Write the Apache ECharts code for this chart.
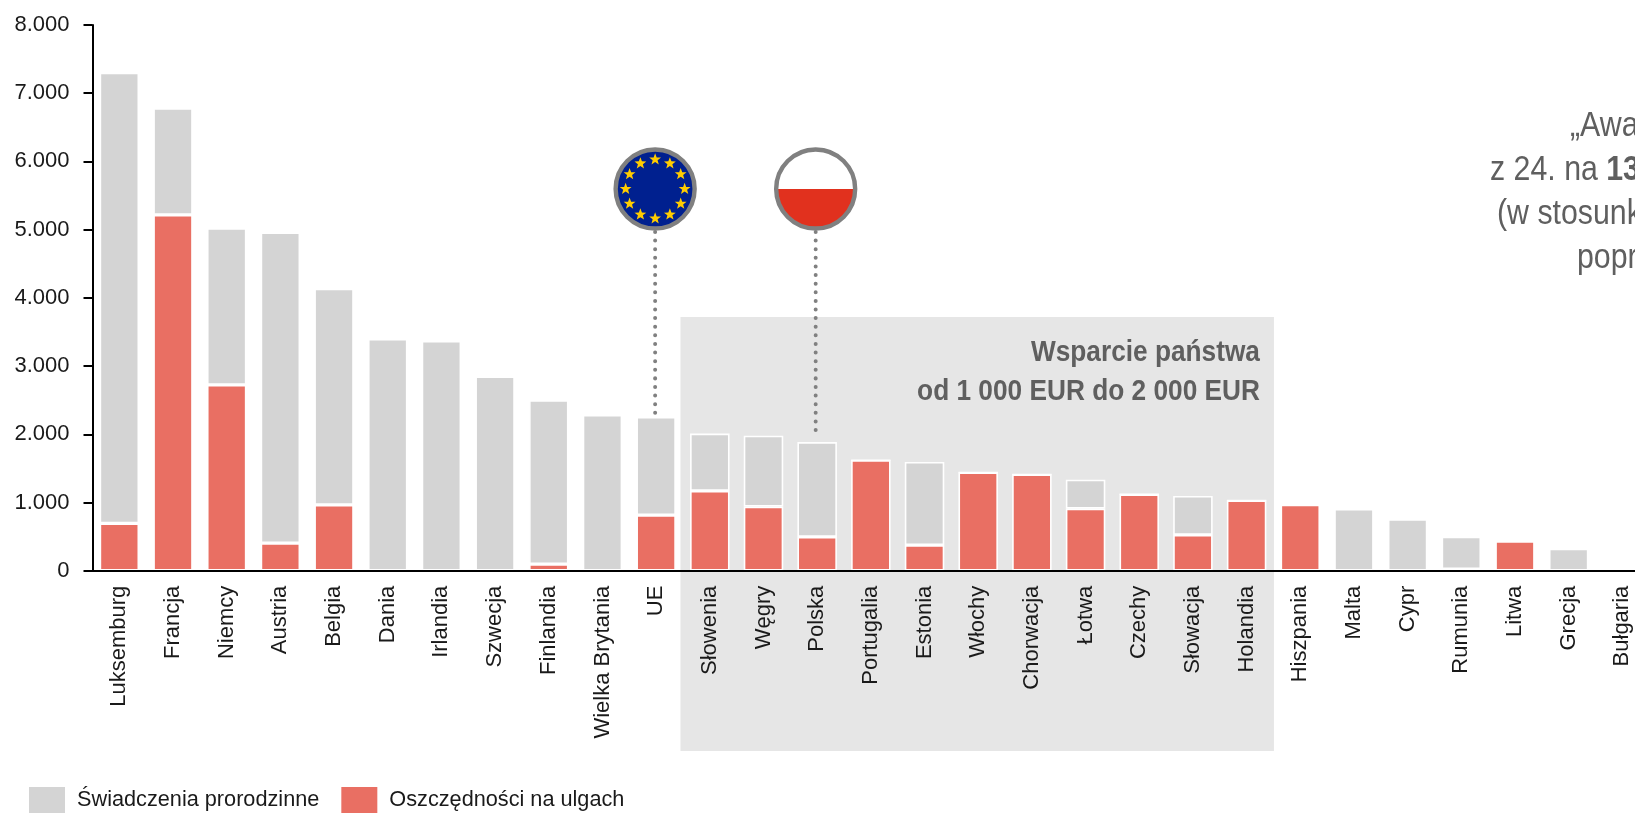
<!DOCTYPE html>
<html>
<head>
<meta charset="utf-8">
<title>Wsparcie państwa</title>
<style>
  html, body { margin: 0; padding: 0; background: #fff; overflow: hidden; }
  /* wykres jest szerszy niż okno: ostatni słupek i notatka są ucięte prawą krawędzią */
  #chart { width: 1680px; height: 816px; }
</style>
<script src="https://cdn.jsdelivr.net/npm/echarts@6/dist/echarts.min.js"></script>
</head>
<body>
<div id="chart"></div>
<script>
var categories = ['Luksemburg', 'Francja', 'Niemcy', 'Austria', 'Belgia', 'Dania', 'Irlandia', 'Szwecja', 'Finlandia', 'Wielka Brytania', 'UE', 'Słowenia', 'Węgry', 'Polska', 'Portugalia', 'Estonia', 'Włochy', 'Chorwacja', 'Łotwa', 'Czechy', 'Słowacja', 'Holandia', 'Hiszpania', 'Malta', 'Cypr', 'Rumunia', 'Litwa', 'Grecja', 'Bułgaria'];
// czerwona część słupka (dół)
var oszczednosci = [695, 5215, 2725, 405, 965, 0, 0, 0, 95, 0, 815, 1170, 940, 495, 1620, 375, 1440, 1410, 910, 1120, 525, 1030, 970, 0, 0, 25, 435, 0, 0];
// szara część słupka (nad czerwoną)
var swiadczenia = [6605, 1565, 2295, 4555, 3170, 3400, 3370, 2850, 2405, 2285, 1440, 840, 1040, 1390, 0, 1220, 0, 0, 425, 0, 570, 0, 0, 905, 755, 475, 0, 325, 0];
var yTicks = ['0', '1.000', '2.000', '3.000', '4.000', '5.000', '6.000', '7.000', '8.000'];

var FONT = '"Liberation Sans", Arial, sans-serif';
var GRAY = '#d4d4d4';
var RED = '#e96f63';

var chart = echarts.init(document.getElementById('chart'));

chart.setOption({
  animation: false,
  textStyle: { fontFamily: FONT },
  grid: { left: 92.5, top: 25, width: 1556.7, height: 545.7 },
  legend: {
    left: 24,
    top: 782,
    itemWidth: 36,
    itemHeight: 26,
    itemGap: 22,
    icon: 'rect',
    data: ['Świadczenia prorodzinne', 'Oszczędności na ulgach'],
    itemStyle: { borderWidth: 0 },
    textStyle: { fontFamily: FONT, fontSize: 21.7, color: '#1a1a1a', padding: [6, 0, 0, 7] }
  },
  xAxis: {
    type: 'category',
    data: categories,
    z: 10,
    axisLine: { lineStyle: { color: '#000', width: 2 } },
    axisTick: { show: false },
    axisLabel: { rotate: 90, interval: 0, margin: 15, fontFamily: FONT, fontSize: 22, color: '#1a1a1a' }
  },
  yAxis: {
    type: 'value',
    min: 0,
    max: 8000,
    interval: 1000,
    z: 10,
    splitLine: { show: false },
    axisLine: { show: true, lineStyle: { color: '#000', width: 2 } },
    axisTick: { show: true, length: 9, lineStyle: { color: '#000', width: 2 } },
    axisLabel: {
      margin: 23,
      padding: [3, 0, 0, 0],
      fontFamily: FONT,
      fontSize: 22,
      color: '#1a1a1a',
      formatter: function (v) { return yTicks[v / 1000]; }
    }
  },
  series: [
    {
      name: 'Oszczędności na ulgach',
      type: 'bar',
      stack: 'razem',
      barWidth: 39.5,
      itemStyle: { color: RED, borderColor: '#fff', borderWidth: 1.6 },
      data: oszczednosci
    },
    {
      name: 'Świadczenia prorodzinne',
      type: 'bar',
      stack: 'razem',
      barWidth: 39.5,
      itemStyle: { color: GRAY, borderColor: '#fff', borderWidth: 1.6 },
      data: swiadczenia
    }
  ]
});

// 12 gwiazdek na fladze UE
function starPoints(cx, cy, r) {
  var pts = [];
  for (var i = 0; i < 10; i++) {
    var a = -Math.PI / 2 + i * Math.PI / 5;
    var rr = i % 2 === 0 ? r : r * 0.42;
    pts.push([cx + rr * Math.cos(a), cy + rr * Math.sin(a)]);
  }
  return pts;
}

function addAnnotations() {
  var xOf = function (name) { return chart.convertToPixel({ xAxisIndex: 0 }, name); };
  var yOf = function (v) { return chart.convertToPixel({ yAxisIndex: 0 }, v); };
  var step = xOf('Węgry') - xOf('Słowenia');
  var bandLeft = xOf('Słowenia') - step / 2 - 2.5;
  var bandRight = xOf('Holandia') + step / 2 + 0.5;
  var euX = xOf('UE') - 1;
  var plX = xOf('Polska') - 1.5;
  var flagY = 189;
  var els = [];

  // tło grupy państw
  els.push({
    type: 'rect',
    z: -1,
    shape: { x: bandLeft, y: yOf(3720), width: bandRight - bandLeft, height: 751 - yOf(3720) },
    style: { fill: '#e6e6e6' }
  });
  els.push({
    type: 'text', z: 5, x: bandRight - 14, y: 353, scaleX: 0.875,
    style: { text: 'Wsparcie państwa', align: 'right', verticalAlign: 'middle', font: 'bold 30px ' + FONT, fill: '#5f5f5f' }
  });
  els.push({
    type: 'text', z: 5, x: bandRight - 14, y: 392, scaleX: 0.875,
    style: { text: 'od 1 000 EUR do 2 000 EUR', align: 'right', verticalAlign: 'middle', font: 'bold 30px ' + FONT, fill: '#5f5f5f' }
  });

  // kropkowane linie od flag
  [[euX, yOf(2250)], [plX, yOf(2000)]].forEach(function (l) {
    els.push({
      type: 'line', z: 5,
      shape: { x1: l[0], y1: 232, x2: l[0], y2: l[1] },
      style: { stroke: '#808080', lineWidth: 4, lineCap: 'round', lineDash: [0.01, 8.6] }
    });
  });

  // flaga UE
  els.push({ type: 'circle', z: 6, shape: { cx: euX, cy: flagY, r: 39.5 }, style: { fill: '#00208f', stroke: '#808080', lineWidth: 4.4 } });
  for (var i = 0; i < 12; i++) {
    var a = i * Math.PI / 6;
    els.push({
      type: 'polygon', z: 7,
      shape: { points: starPoints(euX + 29.5 * Math.cos(a), flagY + 29.5 * Math.sin(a), 6.2) },
      style: { fill: '#ffcc00' }
    });
  }

  // flaga Polski
  els.push({ type: 'circle', z: 6, shape: { cx: plX, cy: flagY, r: 39.5 }, style: { fill: '#fff' } });
  els.push({ type: 'sector', z: 7, shape: { cx: plX, cy: flagY, r: 39.5, r0: 0, startAngle: 0, endAngle: Math.PI, clockwise: true }, style: { fill: '#e1311e' } });
  els.push({ type: 'circle', z: 8, shape: { cx: plX, cy: flagY, r: 39.5 }, style: { fill: 'none', stroke: '#808080', lineWidth: 4.4 } });

  // tekst ucięty przez prawą krawędź
  var note = [
    [1570, 126, '„Awa'],
    [1490, 170, 'z 24. na {b|13}'],
    [1497, 214, '(w stosunk'],
    [1577, 258, 'popr']
  ];
  note.forEach(function (n) {
    els.push({
      type: 'text', z: 5, x: n[0], y: n[1], scaleX: 0.866,
      style: {
        text: n[2], align: 'left', verticalAlign: 'middle', font: '35px ' + FONT, fill: '#5f5f5f',
        rich: { b: { font: 'bold 35px ' + FONT, fill: '#5f5f5f' } }
      }
    });
  });

  chart.setOption({ graphic: { elements: els } });
}

addAnnotations();
</script>
</body>
</html>
